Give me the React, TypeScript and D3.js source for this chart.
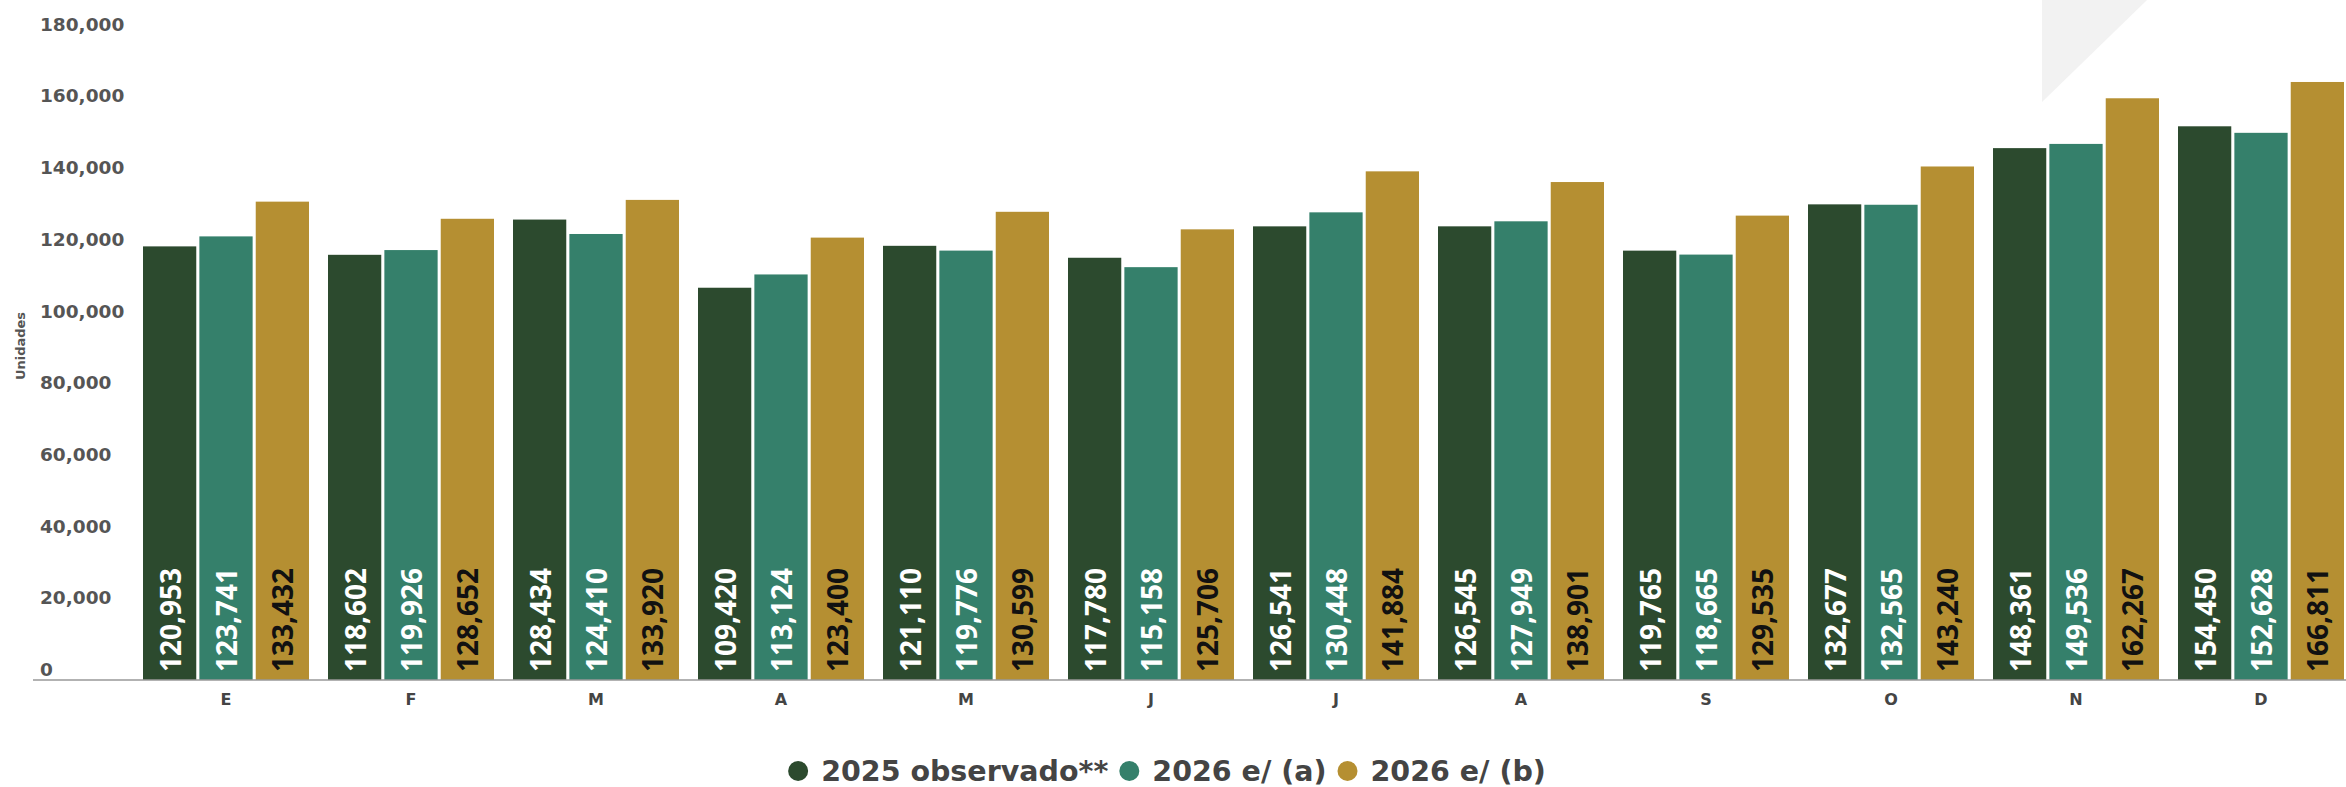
import React, { useEffect, useRef } from "react";
import * as d3 from "d3";

const months = ["E", "F", "M", "A", "M", "J", "J", "A", "S", "O", "N", "D"];
const seriesNames = ["2025 observado**", "2026 e/ (a)", "2026 e/ (b)"];
const obs2025 = [120953, 118602, 128434, 109420, 121110, 117780, 126541, 126545, 119765, 132677, 148361, 154450];
const est2026a = [123741, 119926, 124410, 113124, 119776, 115158, 130448, 127949, 118665, 132565, 149536, 152628];
const est2026b = [133432, 128652, 133920, 123400, 130599, 125706, 141884, 138901, 129535, 143240, 162267, 166811];
const yTicks = [0, 20000, 40000, 60000, 80000, 100000, 120000, 140000, 160000, 180000];

const colors = ["#2c4a2e", "#35806b", "#b58f32"];
const labelColors = ["#ffffff", "#ffffff", "#111111"];

const W = 2346;
const H = 787;

export default function App() {
  const ref = useRef<SVGSVGElement | null>(null);

  useEffect(() => {
    const svg = d3.select(ref.current);
    svg.selectAll("*").remove();
    const series = [obs2025, est2026a, est2026b];

    const baseY = 680;
    const y = d3.scaleLinear().domain([0, 180000]).range([baseY, baseY - 645.3]);
    const idx = months.map((_, i) => i);
    const x = d3.scaleBand<number>().domain(idx).range([133.5, 2353.5]).paddingInner(0.1027).paddingOuter(0.05135);
    const xs = d3.scaleBand<number>().domain([0, 1, 2]).range([0, x.bandwidth()]).paddingInner(0.055).paddingOuter(0);

    // decorative triangle
    svg.append("path").attr("d", "M2042,0 L2147,0 L2042,102 Z").attr("fill", "#f2f2f2");

    const fontMain = "'DejaVu Sans', sans-serif";
    // y tick labels
    svg.append("g").selectAll("text").data(yTicks).join("text")
      .attr("x", 40).attr("y", (d) => y(d) - 4)
      .attr("font-family", fontMain).attr("font-weight", 700).attr("font-size", 18.5)
      .attr("fill", "#555555")
      .text((d) => d3.format(",")(d));

    // y title
    svg.append("text")
      .attr("transform", "translate(25,346) rotate(-90)")
      .attr("text-anchor", "middle")
      .attr("font-family", fontMain).attr("font-weight", 700).attr("font-size", 13)
      .attr("fill", "#555555")
      .text("Unidades");

    // bars
    const g = svg.append("g");
    series.forEach((vals, si) => {
      g.append("g").selectAll("rect").data(vals).join("rect")
        .attr("x", (_, i) => (x(i) as number) + (xs(si) as number))
        .attr("y", (d) => y(d))
        .attr("width", xs.bandwidth())
        .attr("height", (d) => baseY - y(d))
        .attr("fill", colors[si]);
      g.append("g").selectAll("text").data(vals).join("text")
        .attr("transform", (_, i) => {
          const cx = (x(i) as number) + (xs(si) as number) + xs.bandwidth() / 2;
          return `translate(${cx},${baseY - 8}) rotate(-90)`;
        })
        .attr("dominant-baseline", "central")
        .attr("font-family", "'Open Sans', sans-serif").attr("font-weight", 700).attr("font-size", 28)
        .attr("fill", labelColors[si])
        .text((d) => d3.format(",")(d));
    });

    // axis line
    svg.append("line").attr("x1", 33).attr("x2", W).attr("y1", baseY).attr("y2", baseY)
      .attr("stroke", "#999999").attr("stroke-width", 1.5);

    // x labels
    svg.append("g").selectAll("text").data(idx).join("text")
      .attr("x", (i) => (x(i) as number) + x.bandwidth() / 2)
      .attr("y", 705)
      .attr("text-anchor", "middle")
      .attr("font-family", fontMain).attr("font-weight", 700).attr("font-size", 16)
      .attr("fill", "#444444")
      .text((i) => months[i]);

    // legend
    const lg = svg.append("g");
    const items: { dot: any; text: any }[] = [];
    seriesNames.forEach((name, i) => {
      const dot = lg.append("circle").attr("r", 10).attr("cy", 771).attr("fill", colors[i]);
      const text = lg.append("text").attr("y", 781)
        .attr("font-family", fontMain).attr("font-weight", 700).attr("font-size", 28.5)
        .attr("fill", "#444444").text(name);
      items.push({ dot, text });
    });
    const widths = items.map((it) => (it.text.node() as SVGTextElement).getComputedTextLength());
    const dotToText = 23;
    const gap = 21;
    const total = widths.reduce((a, w) => a + 10 + dotToText + w, 0) + gap * (items.length - 1);
    let cx = 1177 - total / 2 + 10;
    items.forEach((it, i) => {
      it.dot.attr("cx", cx);
      it.text.attr("x", cx + dotToText);
      cx = cx + dotToText + widths[i] + gap;
    });
  }, []);

  return (
    <div style={{ position: "absolute", left: 0, top: 0, width: W, height: H, background: "#ffffff" }}>
      <svg ref={ref} width={W} height={H} style={{ display: "block" }} />
    </div>
  );
}
